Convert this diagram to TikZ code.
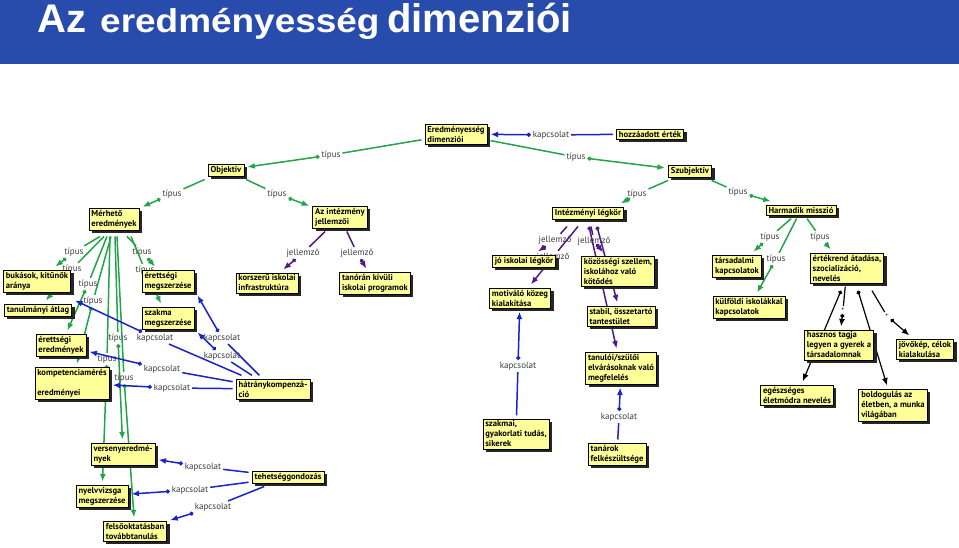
\documentclass[tikz,border=0pt]{standalone}
\usepackage{fontspec}
\setmainfont{PT Sans}
\newfontfamily\titlefont{Liberation Sans}
\usetikzlibrary{arrows.meta,shadows,backgrounds,calc}
\pgfdeclarelayer{bottom}
\pgfsetlayers{bottom,background,main}
\definecolor{titleblue}{RGB}{40,76,172}
\definecolor{cyellow}{RGB}{255,255,153}
\definecolor{lgreen}{RGB}{36,164,74}
\definecolor{lblue}{RGB}{24,36,196}
\definecolor{lpurple}{RGB}{80,24,128}
\definecolor{lgray}{RGB}{60,60,60}
\tikzset{
  concept/.style={draw=black, line width=0.6pt, fill=cyellow, align=left,
    font=\bfseries\fontsize{8.6}{10}\selectfont, inner xsep=2.5pt, inner ysep=2pt,
    outer sep=3.5pt,
    drop shadow={shadow xshift=3pt, shadow yshift=-3pt, opacity=1, fill=black!85}},
  lab/.style={font=\fontsize{9}{10}\selectfont, text=lgray, inner sep=1pt, outer sep=1pt},
  plus/.style={lab, font=\fontsize{7}{8}\selectfont},
  link/.style={line width=1.5pt, {Circle[length=4pt]}-{Latex[length=7.5pt,width=6pt]}},
  glink/.style={link, color=lgreen},
  blink/.style={link, color=lblue},
  plink/.style={link, color=lpurple},
  klink/.style={link, color=black, line width=1.2pt},
  ttl/.style={text=white, inner sep=0pt, anchor=base west, font=\titlefont\bfseries}
}
\begin{document}
\begin{tikzpicture}[x=1pt,y=-1pt]
\useasboundingbox (0,0) rectangle (959,548);
\begin{pgfonlayer}{bottom}
\fill[white] (0,0) rectangle (959,548);
\end{pgfonlayer}
\fill[titleblue] (0,0) rectangle (959,64);
\node[ttl] (t1) at (37,33) {\fontsize{40}{40}\selectfont Az};
\node[ttl] (t2) at (100,33) {\scalebox{1.12}[1]{\fontsize{33}{33}\selectfont eredményesség}};
\node[ttl] (t3) at (387,33) {\fontsize{40}{40}\selectfont dimenziói};

% concepts
\node[concept] (ed) at (456,134) {Eredményesség\\dimenziói};
\node[concept] (ha) at (650,134) {hozzáadott érték};
\node[concept] (sz) at (690,171) {Szubjektív};
\node[concept] (ob) at (226,170) {Objektív};
\node[concept] (me) at (114,219) {Mérhető\\eredmények};
\node[concept] (ij) at (340,217) {Az intézmény\\jellemzői};
\node[concept] (il) at (588,213) {Intézményi légkör};
\node[concept] (hm) at (801,210) {Harmadik misszió};
\node[concept] (bk) at (37,281) {bukások, kitűnők\\aránya};
\node[concept] (ta) at (38,310) {tanulmányi átlag};
\node[concept] (em) at (168,281) {érettségi\\megszerzése};
\node[concept] (sm) at (168,318) {szakma\\megszerzése};
\node[concept] (ee) at (61,345) {érettségi\\eredmények};
\node[concept] (kp) at (72,383) {kompetenciamérés\\\mbox{}\\eredményei};
\node[concept] (hk) at (273,389) {hátránykompenzá-\\ció};
\node[concept] (ki) at (267,283) {korszerű iskolai\\infrastruktúra};
\node[concept] (tk) at (375,283) {tanórán kívüli\\iskolai programok};
\node[concept] (ve) at (123,454) {versenyeredmé-\\nyek};
\node[concept] (ny) at (102,496) {nyelvvizsga\\megszerzése};
\node[concept] (fe) at (135,531) {felsőoktatásban\\továbbtanulás};
\node[concept] (te) at (288,477) {tehetséggondozás};
\node[concept] (jo) at (524,261) {jó iskolai légkör};
\node[concept] (mo) at (520,298) {motiváló közeg\\kialakítása};
\node[concept] (ko) at (618,271) {közösségi szellem,\\iskolához való\\kötődés};
\node[concept] (st) at (621,316) {stabil, összetartó\\tantestület};
\node[concept] (tu) at (621,368) {tanulói/szülői\\elvárásoknak való\\megfelelés};
\node[concept] (sk) at (516,434) {szakmai,\\gyakorlati tudás,\\sikerek};
\node[concept] (tn) at (617,454) {tanárok\\felkészültsége};
\node[concept] (tr) at (737,266) {társadalmi\\kapcsolatok};
\node[concept] (kf) at (749,307) {külföldi iskolákkal\\kapcsolatok};
\node[concept] (er) at (847,268) {értékrend átadása,\\szocializáció,\\nevelés};
\node[concept] (hz) at (839,345) {hasznos tagja\\legyen a gyerek a\\társadalomnak};
\node[concept] (jv) at (925,349) {jövőkép, célok\\kialakulása};
\node[concept] (eg) at (797,395) {egészséges\\életmódra nevelés};
\node[concept] (bo) at (893,405) {boldogulás az\\életben, a munka\\világában};

\begin{pgfonlayer}{background}
\node[lab] (l1) at (331,155) {típus};
\draw[glink] (ed) -- (l1) -- (ob);
\node[lab] (l2) at (576,157) {típus};
\draw[glink] (ed) -- (l2) -- (sz);
\node[lab] (l3) at (551,135) {kapcsolat};
\draw[blink] (ha) -- (l3) -- (ed);
\node[lab] (l4) at (637,194) {típus};
\draw[glink] (sz) -- (l4) -- ($(il.north)+(33,0)$);
\node[lab] (l5) at (738,192) {típus};
\draw[glink] (sz) -- (l5) -- (hm);
\node[lab] (l6) at (172,194) {típus};
\draw[glink] (ob) -- (l6) -- (me);
\node[lab] (l7) at (277,194) {típus};
\draw[glink] (ob) -- (l7) -- (ij);
\node[lab] (l8) at (303,253) {jellemző};
\draw[plink] (ij) -- (l8) -- (ki);
\node[lab] (l9) at (357,253) {jellemző};
\draw[plink] (ij) -- (l9) -- (tk);
% Mérhető eredmények
\node[lab] (l10) at (74,252) {típus};
\draw[glink] ($(me.south)+(-14,3)$) -- (l10) -- (bk);
\node[lab] (l11) at (72,269) {típus};
\draw[glink] ($(me.south)+(-10,3)$) -- (l11) -- (ta);
\node[lab] (l12) at (88,284) {típus};
\draw[glink] ($(me.south)+(-7,3)$) -- (l12) -- (ee);
\node[lab] (l13) at (93,301) {típus};
\draw[glink] ($(me.south)+(-3,3)$) -- (l13) -- (kp);
\node[lab] (l14) at (118,338) {típus};
\draw[glink] ($(me.south)+(1,3)$) -- (l14) -- (ve);
\node[lab] (l15) at (107,359) {típus};
\draw[glink] ($(me.south)+(-4,3)$) -- (l15) -- (ny);
\node[lab] (l16) at (124,378) {típus};
\draw[glink] ($(me.south)+(3,3)$) -- (l16) -- (fe);
\node[lab] (l17) at (142,252) {típus};
\draw[glink] ($(me.south)+(13,3)$) -- (l17) -- (em);
\node[lab] (l18) at (145,270) {típus};
\draw[glink] ($(me.south)+(17,3)$) -- (l18) -- (sm);
% hátránykompenzáció
\node[lab] (l19) at (155,338) {kapcsolat};
\draw[blink] (hk) -- (l19) -- (ta.north east);
\node[lab] (l20) at (222,338) {kapcsolat};
\draw[blink] (hk) -- (l20) -- (em.south east);
\node[lab] (l21) at (222,356) {kapcsolat};
\draw[blink] (hk) -- (l21) -- (sm.south east);
\node[lab] (l22) at (162,369) {kapcsolat};
\draw[blink] (hk) -- (l22) -- (ee);
\node[lab] (l23) at (172,388) {kapcsolat};
\draw[blink] (hk) -- (l23) -- (kp);
% tehetséggondozás
\node[lab] (l24) at (203,467) {kapcsolat};
\draw[blink] (te) -- (l24) -- (ve);
\node[lab] (l25) at (190,490) {kapcsolat};
\draw[blink] (te) -- (l25) -- (ny);
\node[lab] (l26) at (213,507) {kapcsolat};
\draw[blink] (te) -- (l26) -- (fe);
% Intézményi légkör
\node[lab] (l27) at (555,240) {jellemző};
\draw[plink] ($(il.south)+(-21,4)$) -- (l27) -- (jo);
\node[lab] (l28) at (553,257) {jellemző};
\draw[plink] ($(il.south)+(-10,4)$) -- (l28) -- (mo);
\node[lab] (l29) at (594,241) {jellemző};
\draw[plink] ($(il.south)+(3,4)$) -- (l29) -- (ko);
\draw[plink] ($(il.south)+(9,4)$) -- (st);
\draw[plink] ($(il.south)+(1,4)$) -- (tu);
\node[lab] (l30) at (518,366) {kapcsolat};
\draw[blink] (sk) -- (l30) -- (mo);
\node[lab] (l31) at (619,417) {kapcsolat};
\draw[blink] (tn) -- (l31) -- (tu);
% Harmadik misszió
\node[lab] (l32) at (770,237) {típus};
\draw[glink] (hm) -- (l32) -- (tr);
\node[lab] (l33) at (776,259) {típus};
\draw[glink] (hm) -- (l33) -- (kf);
\node[lab] (l34) at (820,237) {típus};
\draw[glink] (hm) -- (l34) -- (er);
\node[plus] (l35) at (843,310) {+};
\draw[klink] (er) -- (l35) -- (hz);
\node[plus] (l36) at (887,316) {+};
\draw[klink] ($(er.south)+(25,4)$) -- (l36) -- (jv);
\draw[klink] ($(er.south)+(-6,4)$) -- (eg);
\draw[klink] ($(er.south)+(11,4)$) -- (bo);
\end{pgfonlayer}
\end{tikzpicture}
\end{document}
